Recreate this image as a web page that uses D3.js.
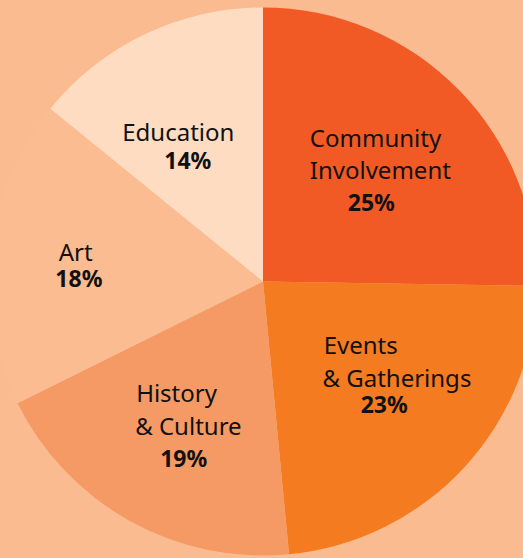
<!DOCTYPE html>
<html>
<head>
<meta charset="utf-8">
<script src="https://cdn.jsdelivr.net/npm/d3@7"></script>
<style>
  html, body { margin: 0; padding: 0; background: #FABB91; }
  svg { display: block; }
</style>
</head>
<body>
<svg id="chart" width="523" height="558"></svg>
<script>
// ---- data ----
const categories = ["Community Involvement", "Events & Gatherings", "History & Culture", "Art", "Education"];
const labelLines = [["Community", "Involvement"], ["Events", "& Gatherings"], ["History", "& Culture"], ["Art"], ["Education"]];
const values = [25, 23, 19, 18, 14];
const pctLabels = ["25%", "23%", "19%", "18%", "14%"];

// ---- style / layout ----
const colors = ["#F15A25", "#F47B20", "#F59A64", "#FBBC92", "#FEDCC1"];
const W = 523, H = 558;
const cx = 263, cy = 281.5, R = 274;
// per-slice line offsets (relative to the label centroid), [dx, dy]
const lineOffsets = [
  [[-60.6, -28.9], [-60.6, 3.4], [-22.6, 35.1]],
  [[-50, -29.9], [-51.3, 3.1], [-13, 29.1]],
  [[-53.6, -10.8], [-54.6, 21.5], [-29.6, 53.5]],
  [[-54.6, -4], [-57.9, 22.3]],
  [[-76, -4.3], [-34, 24]]
];

const svg = d3.select("#chart");
const g = svg.append("g").attr("transform", `translate(${cx},${cy})`);

const pie = d3.pie().sort(null).value(d => d.value);
const arc = d3.arc().innerRadius(0).outerRadius(R);
const labelArc = d3.arc().innerRadius(R * 0.55).outerRadius(R * 0.55);

const data = categories.map((c, i) => ({ name: c, value: values[i], lines: labelLines[i], pct: pctLabels[i], color: colors[i], offs: lineOffsets[i] }));
const arcs = pie(data);

g.selectAll("path.slice").data(arcs).enter().append("path")
  .attr("class", "slice")
  .attr("d", arc)
  .attr("fill", d => d.data.color);

const labels = g.selectAll("text.label").data(arcs).enter().append("text")
  .attr("class", "label")
  .attr("transform", d => { const c = labelArc.centroid(d); return `translate(${c[0]},${c[1]})`; })
  .attr("font-family", "'Noto Sans', sans-serif")
  .attr("font-size", 24)
  .attr("fill", "#111");

labels.each(function(d) {
  const sel = d3.select(this);
  const lines = d.data.lines.concat([d.data.pct]);
  lines.forEach((t, j) => {
    const o = d.data.offs[j];
    const isPct = j === lines.length - 1;
    sel.append("tspan")
      .attr("x", o[0]).attr("y", o[1])
      .attr("font-weight", isPct ? 700 : 400)
      .attr("font-size", isPct ? 23 : 24)
      .text(t);
  });
});
</script>
</body>
</html>
